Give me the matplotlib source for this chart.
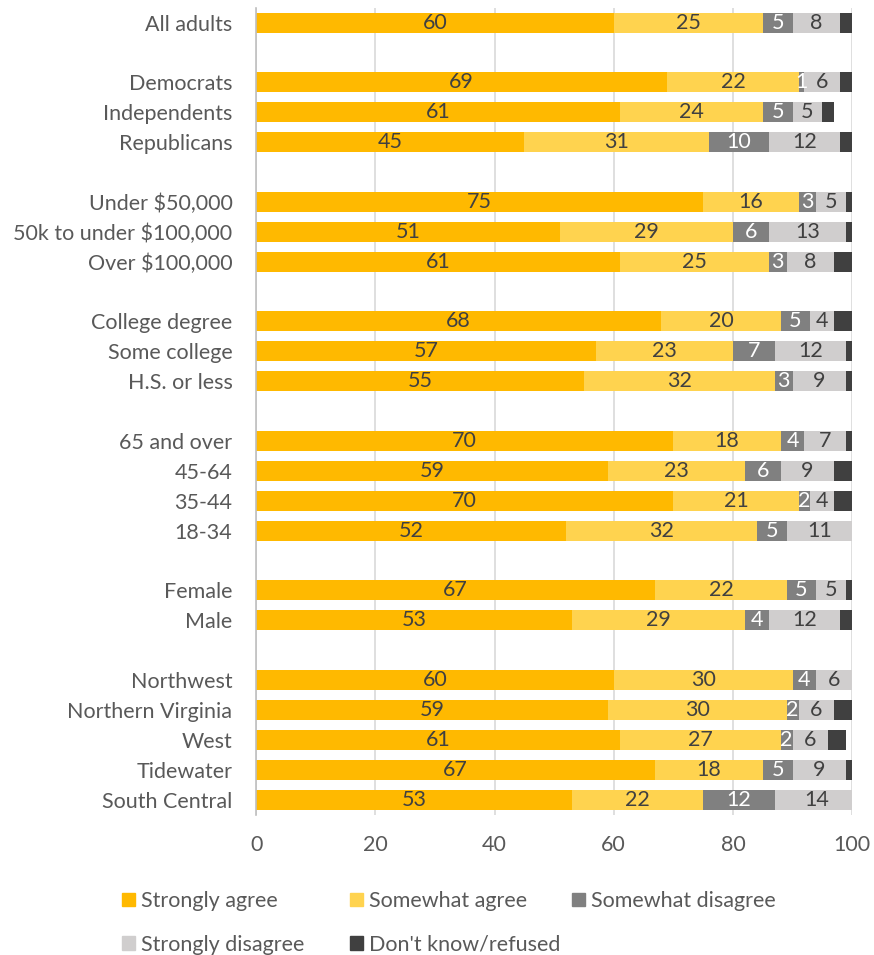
import matplotlib.pyplot as plt
from matplotlib.patches import Patch

# survey groups, top to bottom; None marks a blank spacer row
groups = ["All adults", None,
          "Democrats", "Independents", "Republicans", None,
          "Under $50,000", "50k to under $100,000", "Over $100,000", None,
          "College degree", "Some college", "H.S. or less", None,
          "65 and over", "45-64", "35-44", "18-34", None,
          "Female", "Male", None,
          "Northwest", "Northern Virginia", "West", "Tidewater", "South Central"]

strongly_agree = [60, 69, 61, 45, 75, 51, 61, 68, 57, 55, 70, 59, 70, 52, 67, 53, 60, 59, 61, 67, 53]
somewhat_agree = [25, 22, 24, 31, 16, 29, 25, 20, 23, 32, 18, 23, 21, 32, 22, 29, 30, 30, 27, 18, 22]
somewhat_disagree = [5, 1, 5, 10, 3, 6, 3, 5, 7, 3, 4, 6, 2, 5, 5, 4, 4, 2, 2, 5, 12]
strongly_disagree = [8, 6, 5, 12, 5, 13, 8, 4, 12, 9, 7, 9, 4, 11, 5, 12, 6, 6, 6, 9, 14]
dont_know = [2, 2, 2, 2, 1, 1, 3, 3, 1, 1, 1, 3, 3, 0.5, 1, 2, 0.5, 3, 3, 1, 0]

series = [
    ("Strongly agree", strongly_agree, "#FFB900", "#404040"),
    ("Somewhat agree", somewhat_agree, "#FFD34F", "#404040"),
    ("Somewhat disagree", somewhat_disagree, "#808080", "white"),
    ("Strongly disagree", strongly_disagree, "#D0CECE", "#404040"),
    ("Don't know/refused", dont_know, "#404040", None),
]

plt.rcParams["font.family"] = ["Lato", "DejaVu Sans"]
TEXT = "#595959"
FS = 15.5

fig = plt.figure(figsize=(8.74, 9.55), dpi=100)
ax = fig.add_axes([0.293, 0.147, 0.682, 0.845])

rows = [i for i, g in enumerate(groups) if g is not None]
labels = [g for g in groups if g is not None]

left = [0] * len(rows)
for name, vals, color, txt in series:
    ax.barh(rows, vals, left=left, height=0.67, color=color, zorder=2)
    if txt is not None:
        for y, l, v in zip(rows, left, vals):
            ax.text(l + v / 2, y, f"{v:g}", ha="center", va="center",
                    color=txt, fontsize=FS, zorder=3)
    left = [a + b for a, b in zip(left, vals)]

ax.set_ylim(len(groups) - 0.5, -0.5)
ax.set_xlim(0, 100)
ax.set_yticks(rows)
ax.set_yticklabels(labels, fontsize=FS, color=TEXT)
ax.set_xticks(range(0, 101, 20))
ax.tick_params(axis="x", labelsize=FS, colors=TEXT, length=0, pad=15)
ax.tick_params(axis="y", length=0, pad=17)
ax.grid(axis="x", color="#D9D9D9", linewidth=1.2, zorder=0)
for s in ["top", "right", "bottom"]:
    ax.spines[s].set_visible(False)
ax.spines["left"].set_color("#BFBFBF")
ax.spines["left"].set_linewidth(1.2)

# legend: one small legend per column so the columns sit at fixed x positions
handles = [Patch(color=c, label=n) for n, _, c, _ in series]
columns = [([0, 3], 0.140), ([1, 4], 0.401), ([2], 0.655)]
for idx, x in columns:
    leg = fig.legend([handles[i] for i in idx], [handles[i].get_label() for i in idx],
                     loc="upper left", bbox_to_anchor=(x, 0.067), borderpad=0,
                     borderaxespad=0, frameon=False, fontsize=FS,
                     handlelength=0.6, handleheight=0.6, handletextpad=0.25,
                     labelspacing=1.1)
    for t in leg.get_texts():
        t.set_color(TEXT)

fig.savefig("out.png", dpi=100)
